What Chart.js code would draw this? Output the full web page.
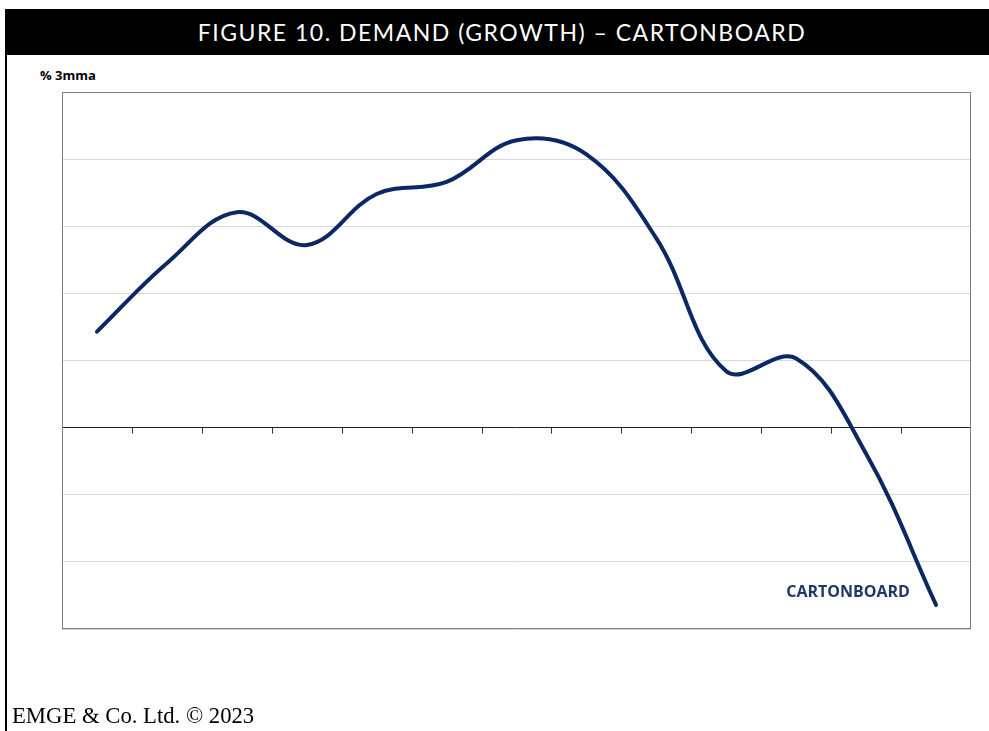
<!DOCTYPE html>
<html>
<head>
<meta charset="utf-8">
<script src="https://cdn.jsdelivr.net/npm/chart.js@4/dist/chart.umd.min.js"></script>
<style>
  html, body { margin: 0; padding: 0; background: #fff; }
  body { width: 989px; height: 731px; position: relative; overflow: hidden; }
  .title-bar {
    position: absolute; left: 5px; top: 9px; width: 974px; height: 46px; padding-left: 10px;
    background: #000; color: #fff;
    font-family: Lato, 'Open Sans', sans-serif; font-size: 23px; letter-spacing: 1.5px;
    line-height: 46px; text-align: center;
  }
  .left-rule { position: absolute; left: 5px; top: 55px; width: 2px; height: 676px; background: #000; }
  .unit { position: absolute; left: 40px; top: 66px; font: bold 13px 'Open Sans', sans-serif; color: #000; }
  .footer {
    position: absolute; left: 12px; top: 703px;
    font-family: 'Liberation Serif', 'DejaVu Serif', serif; font-size: 22.7px; color: #000;
  }
  #chart { position: absolute; left: 0; top: 0; }
</style>
</head>
<body>
<div class="title-bar">FIGURE 10. DEMAND (GROWTH) – CARTONBOARD</div>
<div class="left-rule"></div>
<div class="unit">% 3mma</div>
<canvas id="chart" width="989" height="731"></canvas>
<div class="footer">EMGE &amp; Co. Ltd. © 2023</div>
<script>
  'use strict';

  // 13 unlabelled periods (% 3mma)
  var periods = ['P1', 'P2', 'P3', 'P4', 'P5', 'P6', 'P7', 'P8', 'P9', 'P10', 'P11', 'P12', 'P13'];
  var cartonboard = [1.43, 2.45, 3.21, 2.72, 3.48, 3.66, 4.28, 4.07, 2.82, 0.84, 1.03, -0.39, -2.64];
  var yTicks = [-3, -2, -1, 0, 1, 2, 3, 4, 5];

  var navy = '#0b2865';

  // plot frame, small ticks on the zero line and the series label
  var decor = {
    id: 'decor',
    afterDraw: function (chart) {
      var ctx = chart.ctx;
      var a = chart.chartArea;
      var x = chart.scales.x;
      var y = chart.scales.y;
      var zero = y.getPixelForValue(0);
      var half = (x.getPixelForValue(1) - x.getPixelForValue(0)) / 2;
      ctx.save();
      ctx.strokeStyle = '#333';
      ctx.lineWidth = 1;
      ctx.beginPath();
      for (var i = 1; i < periods.length; i++) {
        var px = Math.round(x.getPixelForValue(i) - half) + 0.5;
        ctx.moveTo(px, zero);
        ctx.lineTo(px, zero + 6);
      }
      ctx.stroke();
      ctx.strokeStyle = '#7f7f7f';
      ctx.strokeRect(a.left + 0.5, a.top + 0.5, a.right - a.left - 1, a.bottom - a.top - 1);
      ctx.fillStyle = '#1f3868';
      ctx.font = "bold 16px 'Open Sans', sans-serif";
      ctx.textAlign = 'left';
      ctx.textBaseline = 'middle';
      ctx.fillText('CARTONBOARD', x.getPixelForValue(10) - 10, y.getPixelForValue(-2.45));
      ctx.restore();
    },
  };

  new Chart(document.getElementById('chart'), {
    type: 'line',
    data: {
      labels: periods,
      datasets: [
        {
          label: 'CARTONBOARD',
          data: cartonboard,
          borderColor: navy,
          borderWidth: 4,
          pointRadius: 0,
          tension: 0.38,
          borderCapStyle: 'round',
          fill: false,
        },
      ],
    },
    options: {
      responsive: false,
      animation: false,
      devicePixelRatio: 1,
      layout: { padding: { left: 62, top: 92, right: 18, bottom: 94 } },
      plugins: { legend: { display: false }, tooltip: { enabled: false } },
      scales: {
        x: {
          offset: true,
          grid: { display: false },
          border: { display: false },
          ticks: { display: false },
        },
        y: {
          min: yTicks[0],
          max: yTicks[yTicks.length - 1],
          afterBuildTicks: function (axis) {
            axis.ticks = yTicks.map(function (v) { return { value: v }; });
          },
          grid: {
            drawTicks: false,
            lineWidth: 1,
            color: function (c) { return c.tick && c.tick.value === 0 ? '#222' : '#d9d9d9'; },
          },
          border: { display: false },
          ticks: { display: false },
        },
      },
    },
    plugins: [decor],
  });
</script>
</body>
</html>
